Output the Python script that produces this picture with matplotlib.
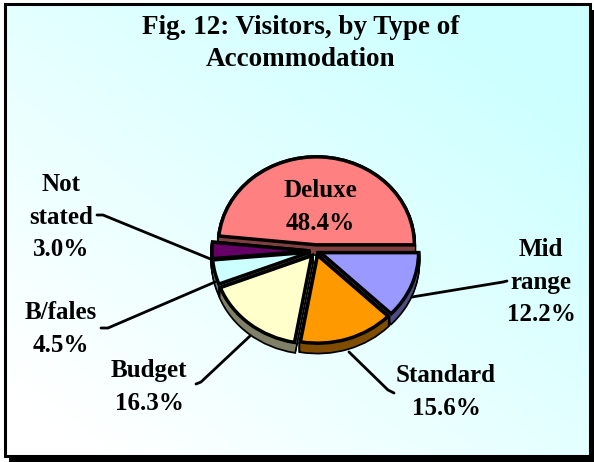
import matplotlib
matplotlib.use('Agg')
import matplotlib.pyplot as plt
from matplotlib.patches import Rectangle
import numpy as np

categories = ['Deluxe', 'Not stated', 'B/fales', 'Budget', 'Standard', 'Mid range']
shares = [48.4, 3.0, 4.5, 16.3, 15.6, 12.2]
explode = [0.07, 0.06, 0.06, 0.07, 0.05, 0.05]
colors = ['#FF8080', '#660066', '#CCFFFF', '#FFFFCC', '#FF9900', '#9999FF']
side_colors = ['#804040', '#330033', '#668080', '#808066', '#804C00', '#4C4C80']
# draw order, front slices last
order = [0, 1, 2, 3, 5, 4]

W, H = 594, 462
plt.rcParams['font.family'] = ['Liberation Serif', 'DejaVu Serif']
plt.rcParams['font.weight'] = 'bold'

fig = plt.figure(figsize=(W / 100, H / 100), dpi=100, facecolor='white')

# background panel with diagonal gradient
bg = fig.add_axes([0, 0, 1, 1])
bg.set_xlim(0, W)
bg.set_ylim(H, 0)
bg.axis('off')
bg.add_patch(Rectangle((9, 10), 585, 452, fc='black', ec='none'))
gx, gy = np.meshgrid(np.linspace(0, 1, 200), np.linspace(0, 1, 200))
grad = np.clip((gx + gy) / 2 * 1.25 - 0.1, 0, 1)
grad = grad[::-1]
panel = bg.imshow(1 - 0.2 * grad[..., None] * np.array([1, 0, 0]), extent=(5, 589, 455, 5),
                  aspect='auto', zorder=2)
bg.set_xlim(0, W)
bg.set_ylim(H, 0)
bg.add_patch(Rectangle((4.5, 4), 585, 452, fc='none', ec='black', lw=2.2, zorder=3))

# pie, squashed by giving the axes a different width and height
rx, ry, cx, cy = 98, 88, 316, 251
ax = fig.add_axes([(cx - 1.5 * rx) / W, 1 - (cy + 1.5 * ry) / H, 3 * rx / W, 3 * ry / H])
depth = 9.5 / ry


def draw_pie(offset, cols, lw, edge, z):
    wedges, _ = ax.pie(shares, explode=explode, colors=cols, startangle=0, counterclock=True,
                       radius=1, center=(0, -offset),
                       wedgeprops={'linewidth': lw, 'edgecolor': edge})
    for i, w in enumerate(wedges):
        w.set_zorder(order.index(i) * 10 + z)


for d in np.linspace(0, depth, 10):
    draw_pie(d, side_colors, 2.5, 'black', 1)
for d in np.linspace(0, depth, 10):
    draw_pie(d, side_colors, 0, 'none', 2)
draw_pie(0, colors, 2.5, 'black', 3)
ax.set_aspect('auto')
ax.set_xlim(-1.5, 1.5)
ax.set_ylim(-1.5, 1.5)
ax.patch.set_alpha(0)

# overlay for text and leader lines
ov = fig.add_axes([0, 0, 1, 1])
ov.set_xlim(0, W)
ov.set_ylim(H, 0)
ov.axis('off')
ov.patch.set_alpha(0)

fs = 19.5
ov.text(301, 28, 'Fig. 12: Visitors, by Type of', ha='center', va='center', fontsize=fs)
ov.text(301, 60, 'Accommodation', ha='center', va='center', fontsize=fs)

labels = [
    ('Deluxe\n48.4%', 320, 207),
    ('Not\nstated\n3.0%', 61, 217),
    ('B/fales\n4.5%', 61, 329),
    ('Budget\n16.3%', 149, 387),
    ('Standard\n15.6%', 446, 392),
    ('Mid\nrange\n12.2%', 541, 282),
]
for txt, x, y in labels:
    ov.text(x, y, txt, ha='center', va='center', fontsize=18, linespacing=1.51, multialignment='center')

leaders = [
    ([97, 103, 213], [215, 215, 260]),
    ([101, 108, 215], [328, 328, 282]),
    ([196, 201, 250], [384, 382, 336]),
    ([349, 388, 394], [352, 390, 393]),
    ([412, 503, 507], [297, 282, 281]),
]
for xs, ys in leaders:
    ov.plot(xs, ys, color='black', lw=2, solid_capstyle='round')

fig.savefig('out.png', dpi=100)
